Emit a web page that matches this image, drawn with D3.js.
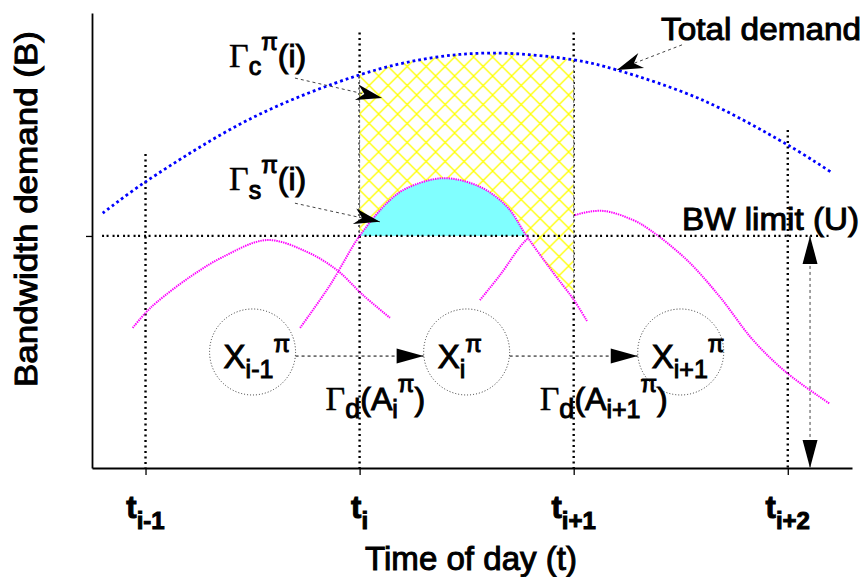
<!DOCTYPE html>
<html><head><meta charset="utf-8">
<script src="https://cdn.jsdelivr.net/npm/d3@7"></script>
<style>
body{margin:0;background:#fff;}
svg{display:block;}
text{font-family:"Liberation Sans",Arial,sans-serif;fill:#000;}
</style>
</head><body>
<svg id="chart" width="865" height="577"></svg>
<script>
// ---------------- data ----------------
const tickTimes = [1, 2, 3, 4];
const tickSubs  = ["i-1", "i", "i+1", "i+2"];
const bwLimit = 51;                       // U
// total demand (blue dotted)
const totalT = [0.8, 1.0, 1.5, 2.0, 2.33, 2.63, 3.0, 3.2, 3.6, 4.0, 4.2];
const totalV = [56.0, 62.9, 77.0, 86.4, 90.1, 91.2, 89.7, 87.5, 80.9, 71.0, 65.1];
// individual demands (magenta dotted)
const s1T = [0.94, 1.0, 1.054, 1.208, 1.362, 1.567, 1.754, 1.894, 2.016, 2.142];
const s1V = [30.8, 34.1, 36.5, 42.0, 46.4, 50.1, 47.5, 43.5, 38.0, 33.0];
const s2T = [1.722, 1.862, 2.0, 2.142, 2.221, 2.39, 2.562, 2.689, 2.78, 2.903, 3.0, 3.062];
const s2V = [30.8, 40.2, 51.0, 58.9, 61.5, 63.7, 61.8, 57.4, 51.0, 43.0, 37.0, 32.3];
const s3T = [2.562, 2.656, 2.782, 2.889, 3.006, 3.137, 3.277, 3.357, 3.529, 3.683, 3.838, 3.996, 4.197];
const s3V = [36.9, 42.4, 50.3, 53.4, 55.6, 56.5, 54.5, 52.3, 45.7, 37.6, 28.1, 20.9, 14.1];
// states
const stateT = [1.5, 2.5, 3.5];
const stateSubs = ["i-1", "i", "i+1"];
const stateV = 25.5;
const transV = 24.6;
const transSubs = ["i", "i+1"];
// annotation arrows [t0, v0, t1, v1]
const arrowGc = [1.698, 85.7, 2.105, 81.3];
const arrowGs = [1.698, 58.2, 2.095, 54.1];
const arrowTot = [3.506, 93.0, 3.202, 87.5];
const arrowU = [4.104, bwLimit, 4.104, 0];
// vertical guide tops (value)
const guideTop = [69.0, 95.7, 95.7, 74.3];

// ---------------- setup ----------------
const svg = d3.select("#chart");
const x = d3.scaleLinear().domain([0.75, 4.3]).range([92, 852]);
const y = d3.scaleLinear().domain([0, 100]).range([468, 13]);
const curve = d3.curveCatmullRom.alpha(0.5);
const zip = (T, V) => T.map((t, i) => [t, V[i]]);
const totalD = zip(totalT, totalV), s1D = zip(s1T, s1V), s2D = zip(s2T, s2V), s3D = zip(s3T, s3V);
const line = d3.line().x(d => x(d[0])).y(d => y(d[1])).curve(curve);

const defs = svg.append("defs");
const P = 19;
const pat = defs.append("pattern").attr("id", "hatch").attr("patternUnits", "userSpaceOnUse")
  .attr("width", P).attr("height", P).attr("x", x(2)).attr("y", 0);
pat.append("path").attr("d", `M-1,-1L${P+1},${P+1}M-1,${P+1}L${P+1},-1`)
  .attr("stroke", "#ffff00").attr("stroke-width", 1.3).attr("fill", "none");

const areaUnder = d3.area().x(d => x(d[0])).y0(y(0)).y1(d => y(d[1])).curve(curve);
const areaAbove = d3.area().x(d => x(d[0])).y0(0).y1(d => y(d[1])).curve(curve);
defs.append("clipPath").attr("id", "cBlue").append("path").attr("d", areaUnder(totalD));
defs.append("clipPath").attr("id", "cAboveS2").append("path").attr("d", areaAbove(s2D));
defs.append("clipPath").attr("id", "cUnderS2").append("path").attr("d", areaUnder(s2D));

// vertical guides
tickTimes.forEach((t, i) => {
  svg.append("line").attr("x1", x(t)).attr("x2", x(t)).attr("y1", y(guideTop[i])).attr("y2", y(0))
    .attr("stroke", "#000").attr("stroke-width", 2.4).attr("stroke-dasharray", "2,3.5");
});

const magenta = sel => sel.attr("fill", "none").attr("stroke", "#ff00ff")
  .attr("stroke-width", 2).attr("stroke-dasharray", "1.4,0.9");
// magenta 1 and 3 (under patch)
[s1D, s3D].forEach(d => svg.append("path").attr("d", line(d)).call(magenta));

// hatched patch
const hg = svg.append("g").attr("clip-path", "url(#cBlue)").append("g").attr("clip-path", "url(#cAboveS2)");
hg.append("rect").attr("x", x(2)).attr("width", x(3) - x(2)).attr("y", 0).attr("height", y(0)).attr("fill", "#fff");
hg.append("rect").attr("x", x(2)).attr("width", x(3) - x(2)).attr("y", 0).attr("height", y(0)).attr("fill", "url(#hatch)");
// patch edges
const interp = (D, t) => { for (let i = 0; i < D.length - 1; i++) { if (t >= D[i][0] && t <= D[i+1][0]) { const f = (t - D[i][0]) / (D[i+1][0] - D[i][0]); return D[i][1] + f * (D[i+1][1] - D[i][1]); } } return D[0][1]; };
[2, 3].forEach(t => svg.append("line").attr("x1", x(t)).attr("x2", x(t))
  .attr("y1", y(interp(totalD, t))).attr("y2", y(interp(s2D, t)))
  .attr("stroke", "#555").attr("stroke-width", 0.9).attr("stroke-dasharray", "3,2"));

// cyan region
svg.append("g").attr("clip-path", "url(#cUnderS2)").append("rect")
  .attr("x", x(1.95)).attr("width", x(2.85) - x(1.95)).attr("y", 0).attr("height", y(bwLimit))
  .attr("fill", "#80ffff");

// BW limit line
svg.append("line").attr("x1", x(0.797)).attr("x2", x(4.2)).attr("y1", y(bwLimit)).attr("y2", y(bwLimit))
  .attr("stroke", "#000").attr("stroke-width", 2.2).attr("stroke-dasharray", "2,2.5,2,4");

// blue total demand
svg.append("path").attr("d", line(totalD)).attr("fill", "none")
  .attr("stroke", "#0000ff").attr("stroke-width", 2.8).attr("stroke-dasharray", "2.8,3");
// magenta 2
svg.append("path").attr("d", line(s2D)).call(magenta);

// ---------------- axes ----------------
const gx = svg.append("g").attr("transform", `translate(0,${y(0)})`)
  .call(d3.axisBottom(x).tickValues(tickTimes).tickSize(7).tickSizeOuter(0).tickFormat(""));
const gy = svg.append("g").attr("transform", `translate(${x(0.75)},0)`)
  .call(d3.axisLeft(y).tickValues([bwLimit]).tickSize(6).tickSizeOuter(0).tickFormat(""));
[gx, gy].forEach(g => { g.select(".domain").attr("stroke-width", 1.8); g.selectAll(".tick line").attr("stroke-width", 1.3); });

// ---------------- helpers ----------------
const SW = 1.0;
function rich(xx, yy, parts, anchor, weight) {
  const t = svg.append("text").attr("x", xx).attr("y", yy).attr("text-anchor", anchor || "start")
    .attr("stroke", "#000").attr("stroke-width", SW).style("font-weight", weight || "normal");
  parts.forEach(p => {
    const ts = t.append("tspan").attr("dy", p.dy || 0).style("font-size", p.s + "px").text(p.t);
    if (p.f) ts.style("font-family", p.f).attr("stroke-width", 0.4);
  });
  return t;
}
function arrowHead(x1, y1, x2, y2, L, W, notch) {
  const dx = x2 - x1, dy = y2 - y1, d = Math.hypot(dx, dy);
  const ux = dx / d, uy = dy / d, nx = -uy, ny = ux;
  const bx = x2 - L * ux, by = y2 - L * uy;
  const mx = x2 - L * (1 - notch) * ux, my = y2 - L * (1 - notch) * uy;
  return `M${x2},${y2}L${bx + W * nx},${by + W * ny}L${mx},${my}L${bx - W * nx},${by - W * ny}Z`;
}
function arrow(a, L, W, notch, color, both) {
  const x1 = x(a[0]), y1 = y(a[1]), x2 = x(a[2]), y2 = y(a[3]);
  svg.append("line").attr("x1", x1).attr("y1", y1).attr("x2", x2).attr("y2", y2)
    .attr("stroke", color).attr("stroke-width", 1).attr("stroke-dasharray", "3,3");
  svg.append("path").attr("d", arrowHead(x1, y1, x2, y2, L, W, notch)).attr("fill", "#000");
  if (both) svg.append("path").attr("d", arrowHead(x2, y2, x1, y1, L, W, notch)).attr("fill", "#000");
}

// ---------------- states & transitions ----------------
const R = 43;
stateT.forEach((t, i) => {
  svg.append("circle").attr("cx", x(t)).attr("cy", y(stateV)).attr("r", R)
    .attr("fill", "none").attr("stroke", "#333").attr("stroke-width", 1).attr("stroke-dasharray", "1,2");
  rich(x(t) - 29, y(stateV) + 16, [
    { t: "X", s: 33 },
    { t: stateSubs[i], s: 25, dy: 10 },
    { t: "π", s: 24, dy: -26 }
  ]);
});
for (let i = 0; i < 2; i++) {
  const x1 = x(stateT[i]) + R, x2 = x(stateT[i + 1]) - R, yy = y(transV);
  svg.append("line").attr("x1", x1).attr("x2", x2).attr("y1", yy).attr("y2", yy)
    .attr("stroke", "#000").attr("stroke-width", 1).attr("stroke-dasharray", "3,3");
  svg.append("path").attr("d", arrowHead(x1, yy, x2, yy, 27, 7.5, 0)).attr("fill", "#000");
  rich(x(tickTimes[i + 1]) - 34, 410, [
    { t: "Γ", s: 34, f: "Liberation Serif, Times New Roman, serif" },
    { t: "d", s: 27, dy: 8 },
    { t: "(A", s: 32, dy: -8 },
    { t: transSubs[i], s: 25, dy: 8 },
    { t: "π", s: 24, dy: -26 },
    { t: ")", s: 32, dy: 18 }
  ]);
}

// annotation arrows
arrow(arrowGc, 26, 8, 0.3, "#444", false);
arrow(arrowGs, 26, 8, 0.3, "#444", false);
arrow(arrowTot, 26, 8, 0.3, "#444", false);
arrow(arrowU, 28, 7.5, 0, "#444", true);

// ---------------- labels ----------------
rich(229, 67, [
  { t: "Γ", s: 34, f: "Liberation Serif, Times New Roman, serif" },
  { t: "c", s: 25, dy: 8 },
  { t: "π", s: 24, dy: -25 },
  { t: "(i)", s: 32, dy: 17 }
]);
rich(229, 190, [
  { t: "Γ", s: 34, f: "Liberation Serif, Times New Roman, serif" },
  { t: "s", s: 25, dy: 9 },
  { t: "π", s: 24, dy: -26 },
  { t: "(i)", s: 32, dy: 17 }
]);
const plain = (sel, fs) => sel.style("font-size", fs + "px").attr("stroke", "#000").attr("stroke-width", SW)
  .attr("lengthAdjust", "spacingAndGlyphs");
svg.append("text").attr("x", 661).attr("y", 40).call(plain, 32).attr("textLength", 200).text("Total demand");
svg.append("text").attr("x", 682).attr("y", 230).call(plain, 32).attr("textLength", 177).text("BW limit (U)");

// tick labels
tickTimes.forEach((t, i) => {
  rich(x(t), 518, [
    { t: "t", s: 31 },
    { t: tickSubs[i], s: 24, dy: 11 }
  ], "middle", "bold");
});
// axis titles
svg.append("text").attr("x", 471).attr("y", 570).attr("text-anchor", "middle").call(plain, 33)
  .attr("textLength", 212).text("Time of day (t)");
svg.append("text").attr("transform", "translate(37,209) rotate(-90)").attr("text-anchor", "middle")
  .call(plain, 32).attr("textLength", 356).text("Bandwidth demand (B)");
</script>
</body></html>
